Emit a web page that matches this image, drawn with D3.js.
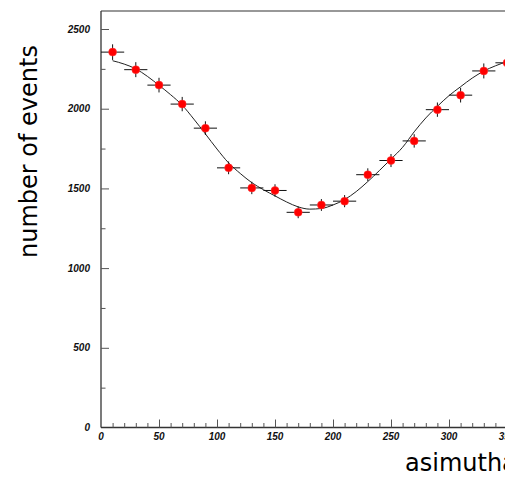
<!DOCTYPE html>
<html>
<head>
<meta charset="utf-8">
<script src="https://cdn.jsdelivr.net/npm/d3@7"></script>
<style>
  html, body { margin: 0; padding: 0; background: #fff; overflow: hidden; }
  svg { display: block; }
</style>
</head>
<body>
<svg id="chart" width="505" height="478"></svg>
<script>
// ---- data ----
const binCenters = [10, 30, 50, 70, 90, 110, 130, 150, 170, 190, 210, 230, 250, 270, 290, 310, 330, 350];
const counts     = [2355, 2245, 2148, 2029, 1878, 1629, 1503, 1487, 1350, 1396, 1420, 1586, 1675, 1798, 1994, 2085, 2237, 2288];
const countErrs  = [49, 47, 46, 45, 43, 40, 39, 39, 37, 37, 38, 40, 41, 42, 45, 46, 47, 48];
const binHalfWidth = 10;

const fitX = [10, 20, 30, 40, 50, 60, 70, 80, 90, 100, 110, 120, 130, 140, 150, 160, 170, 180, 190, 200, 210, 220, 230, 240, 250, 260, 270, 280, 290, 300, 310, 320, 330, 340, 350, 360];
const fitY = [2301, 2280, 2250, 2203, 2147, 2088, 2022, 1935, 1842, 1747, 1660, 1594, 1536, 1492, 1453, 1415, 1384, 1370, 1374, 1396, 1430, 1480, 1543, 1612, 1684, 1758, 1855, 1942, 2015, 2082, 2138, 2192, 2236, 2269, 2294, 2305];

const xTicks = [0, 50, 100, 150, 200, 250, 300, 350];
const yTicks = [0, 500, 1000, 1500, 2000, 2500];
const xDomain = [0, 360];
const yDomain = [0, 2613];

// ---- layout ----
const svg = d3.select("#chart");
const mLeft = 101, mRight = 518.6, mTop = 11, mBottom = 427.5;

const x = d3.scaleLinear().domain(xDomain).range([mLeft, mRight]);
const y = d3.scaleLinear().domain(yDomain).range([mBottom, mTop]);

// frame
svg.append("line").attr("x1", mLeft).attr("x2", mRight).attr("y1", mTop).attr("y2", mTop)
  .attr("stroke", "#333").attr("stroke-width", 1.2);

// x axis
const xAxis = d3.axisTop(x)
  .tickValues(d3.range(0, 361, 10))
  .tickSize(0).tickFormat("");
const gx = svg.append("g").attr("transform", `translate(0,${mBottom})`);
gx.append("line").attr("x1", mLeft).attr("x2", mRight).attr("stroke", "#333").attr("stroke-width", 1.3);
gx.call(xAxis);
gx.select(".domain").remove();
gx.selectAll(".tick line")
  .attr("y2", d => (d % 50 === 0 ? -8 : -4.5))
  .attr("stroke", "#555").attr("stroke-width", 1);
gx.selectAll(".tick").filter(d => d === 0).remove();

svg.append("g").selectAll("text").data(xTicks).join("text")
  .attr("x", d => x(d)).attr("y", 439.5)
  .attr("text-anchor", "middle")
  .attr("font-family", "Liberation Sans, Arial, sans-serif")
  .attr("font-style", "italic").attr("font-weight", "bold")
  .attr("font-size", 10).attr("fill", "#111")
  .text(d => d);

// y axis
const yAxis = d3.axisRight(y).tickValues(d3.range(0, 2613, 250)).tickSize(0).tickFormat("");
const gy = svg.append("g").attr("transform", `translate(${mLeft},0)`);
gy.append("line").attr("y1", mTop).attr("y2", mBottom).attr("stroke", "#333").attr("stroke-width", 1.3);
gy.call(yAxis);
gy.select(".domain").remove();
gy.selectAll(".tick line")
  .attr("x2", d => (d % 500 === 0 ? 8 : 4.5))
  .attr("stroke", "#555").attr("stroke-width", 1);
gy.selectAll(".tick").filter(d => d === 0).remove();

svg.append("g").selectAll("text").data(yTicks).join("text")
  .attr("x", 90).attr("y", d => y(d) + 3.5)
  .attr("text-anchor", "end")
  .attr("font-family", "Liberation Sans, Arial, sans-serif")
  .attr("font-style", "italic").attr("font-weight", "bold")
  .attr("font-size", 10).attr("fill", "#111")
  .text(d => d);

// axis titles
svg.append("text")
  .attr("transform", "translate(37,258) rotate(-90)")
  .attr("font-family", "DejaVu Sans, sans-serif")
  .attr("font-size", 24).attr("fill", "#000")
  .text("number of events");

svg.append("text")
  .attr("x", 405).attr("y", 471)
  .attr("font-family", "DejaVu Sans, sans-serif")
  .attr("font-size", 24).attr("fill", "#000")
  .text("asimuthal angle");

// fit curve
const fitPts = fitX.map((v, i) => [v, fitY[i]]);
svg.append("path")
  .datum(fitPts)
  .attr("fill", "none").attr("stroke", "#222").attr("stroke-width", 1)
  .attr("d", d3.line().x(d => x(d[0])).y(d => y(d[1])).curve(d3.curveMonotoneX));

// data points with error bars
const pts = binCenters.map((c, i) => ({ c, v: counts[i], e: countErrs[i] }));
const gp = svg.append("g");
gp.selectAll("line.h").data(pts).join("line").attr("class", "h")
  .attr("x1", d => x(d.c - binHalfWidth)).attr("x2", d => x(d.c + binHalfWidth))
  .attr("y1", d => y(d.v)).attr("y2", d => y(d.v))
  .attr("stroke", "#111").attr("stroke-width", 1);
gp.selectAll("line.v").data(pts).join("line").attr("class", "v")
  .attr("x1", d => x(d.c)).attr("x2", d => x(d.c))
  .attr("y1", d => y(d.v - d.e)).attr("y2", d => y(d.v + d.e))
  .attr("stroke", "#111").attr("stroke-width", 1);
gp.selectAll("circle").data(pts).join("circle")
  .attr("cx", d => x(d.c)).attr("cy", d => y(d.v)).attr("r", 4)
  .attr("fill", "#ff0000").attr("stroke", "#ff4040").attr("stroke-width", 0.5);
</script>
</body>
</html>
